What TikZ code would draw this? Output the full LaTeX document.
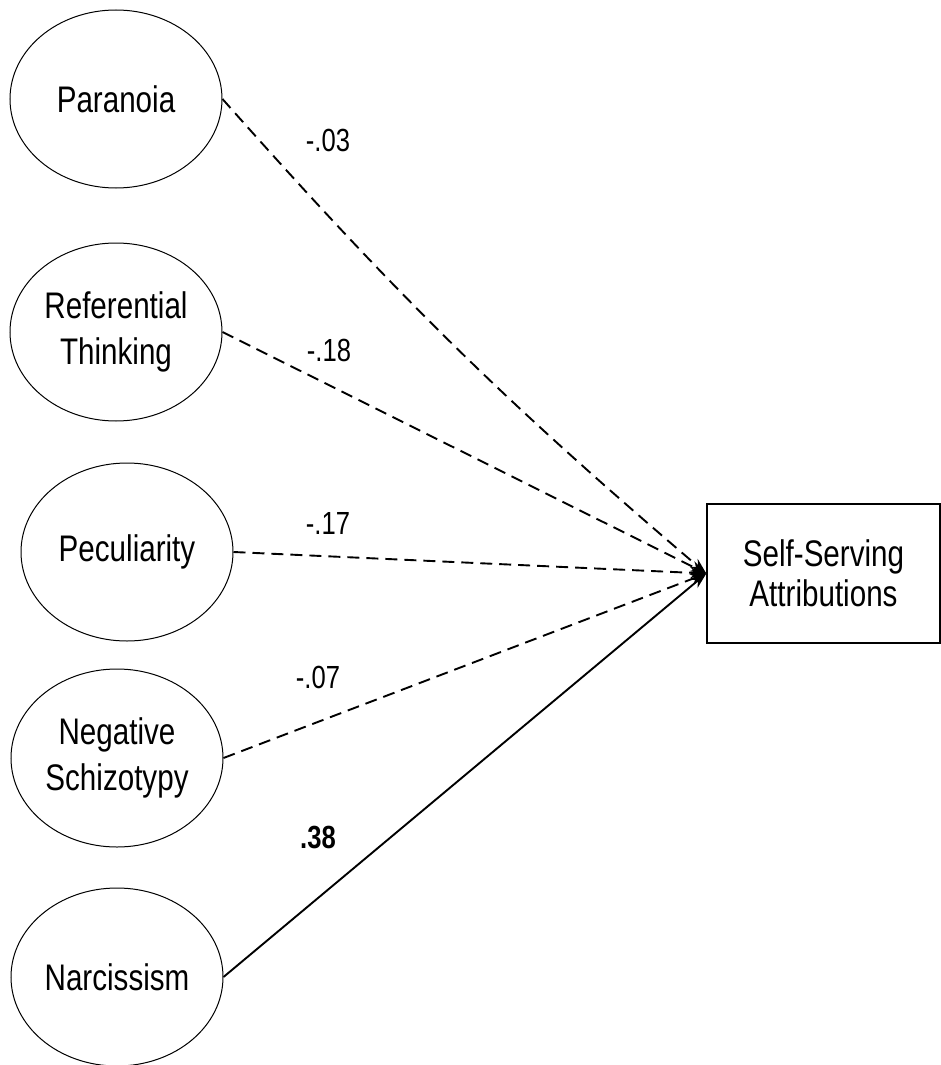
\documentclass[tikz,border=0pt]{standalone}
\usepackage{fontspec}
\setmainfont{Liberation Sans}[FakeStretch=0.8]
\usepackage{tikz}
\usetikzlibrary{positioning,arrows.meta,shapes.geometric}

\begin{document}
\begin{tikzpicture}[
    x=1pt, y=-1pt,
    latentnode/.style={ellipse, draw=black, line width=1pt, minimum width=212pt, minimum height=178pt, inner sep=0pt, align=center, font=\fontsize{37}{46}\selectfont},
    outcomenode/.style={rectangle, draw=black, line width=1.4pt, minimum width=233pt, minimum height=139pt, inner sep=0pt, align=center, font=\fontsize{37}{40}\selectfont},
    coefnode/.style={inner sep=0pt, font=\fontsize{32}{38}\selectfont},
    pathline/.style={->, >={Stealth[length=16pt,width=11pt]}, draw=black, line width=1.9pt},
    nspathline/.style={pathline, dash pattern=on 12pt off 7pt}
    ]
        \useasboundingbox (0,0) rectangle (941,1065);

        %Nodes
        \node[latentnode]   (para)  at (116,99)     {Paranoia};
        \node[latentnode]   (refer) at (116,332)    {Referential\\Thinking};
        \node[latentnode]   (pecul) at (127,552)    {Peculiarity};
        \node[latentnode]   (negsz) at (117,758)    {Negative\\Schizotypy};
        \node[latentnode]   (narc)  at (117,977)    {Narcissism};
        \node[outcomenode]  (ssa)   at (823.5,573.5) {Self-Serving\\Attributions};

        %Coefficients
        \node[coefnode] (cpara)  at (328,140) {-.03};
        \node[coefnode] (crefer) at (329,350) {-.18};
        \node[coefnode] (cpecul) at (328,523) {-.17};
        \node[coefnode] (cnegsz) at (318,677) {-.07};
        \node[coefnode] (cnarc)  at (318,837) {\bfseries .38};

        %Lines
        \draw[nspathline]
            (para.east) to[bend right=4] (ssa.west);
        \draw[nspathline]
            (refer.east) -- (ssa.west);
        \draw[nspathline]
            (pecul.east) -- (ssa.west);
        \draw[nspathline]
            (negsz.east) -- (ssa.west);
        \draw[pathline]
            (narc.east) -- (ssa.west);
    \end{tikzpicture}
\end{document}
